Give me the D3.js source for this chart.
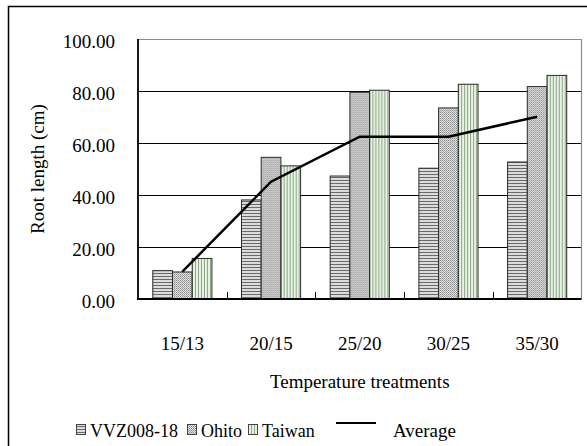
<!DOCTYPE html>
<html>
<head>
<meta charset="utf-8">
<script src="https://cdn.jsdelivr.net/npm/d3@7"></script>
<style>
  body { margin: 0; background: #fff; }
</style>
</head>
<body>
<div id="chart"></div>
<script>
// ----- data -----
var categories = ['15/13', '20/15', '25/20', '30/25', '35/30'];
var seriesNames = ['VVZ008-18', 'Ohito', 'Taiwan'];
var vvzValues = [10.9, 38.1, 47.3, 50.3, 52.7];
var ohitoValues = [10.4, 54.5, 79.5, 73.5, 81.7];
var taiwanValues = [15.6, 51.2, 80.3, 82.6, 86.0];
var averageValues = [10.5, 45.1, 62.4, 62.4, 70.1];
var yTicks = [0, 20, 40, 60, 80, 100];

var attrs = {
  svgWidth: 587,
  svgHeight: 446,
  plotLeft: 138,
  plotRight: 581.5,
  plotTop: 39,
  plotBottom: 299,
  fontSize: 19,
  legendFontSize: 18,
  fontFamily: "'Liberation Serif', 'Times New Roman', serif"
};

var seriesValues = [vvzValues, ohitoValues, taiwanValues];
var patternIds = ['pat-hstripe', 'pat-dots', 'pat-vstripe'];

var svg = d3.select('#chart').append('svg')
  .attr('width', attrs.svgWidth)
  .attr('height', attrs.svgHeight)
  .style('font-family', attrs.fontFamily);

// ##### patterns #####
var defs = svg.append('defs');

var hs = defs.append('pattern').attr('id', 'pat-hstripe')
  .attr('patternUnits', 'userSpaceOnUse').attr('width', 4).attr('height', 3);
hs.append('rect').attr('width', 4).attr('height', 3).attr('fill', '#dcdcdc');
hs.append('rect').attr('width', 4).attr('height', 1).attr('fill', '#6a6a6a');

var dt = defs.append('pattern').attr('id', 'pat-dots')
  .attr('patternUnits', 'userSpaceOnUse').attr('width', 2).attr('height', 2);
dt.append('rect').attr('width', 2).attr('height', 2).attr('fill', '#e4e4e4');
dt.append('rect').attr('width', 1).attr('height', 1).attr('fill', '#858585');
dt.append('rect').attr('x', 1).attr('y', 1).attr('width', 1).attr('height', 1).attr('fill', '#a8a8a8');

var vs = defs.append('pattern').attr('id', 'pat-vstripe')
  .attr('patternUnits', 'userSpaceOnUse').attr('width', 3).attr('height', 4);
vs.append('rect').attr('width', 3).attr('height', 4).attr('fill', '#e9f1e5');
vs.append('rect').attr('width', 1).attr('height', 4).attr('fill', '#8aa986');

// ##### scales #####
var x = d3.scaleBand()
  .domain(categories)
  .range([attrs.plotLeft, attrs.plotRight])
  .padding(0);

var xSub = d3.scaleBand()
  .domain(d3.range(seriesNames.length))
  .range([0, x.bandwidth()])
  .paddingInner(0)
  .paddingOuter(0.75);

var y = d3.scaleLinear()
  .domain([0, 100])
  .range([attrs.plotBottom, attrs.plotTop]);

// outer frame (runs off the right and bottom edge)
svg.append('rect')
  .attr('x', 8.5).attr('y', 6.5)
  .attr('width', 620).attr('height', 500)
  .attr('fill', 'none')
  .attr('stroke', '#000')
  .attr('stroke-width', 1.5);

// ##### gridlines #####
svg.append('g').selectAll('line')
  .data(yTicks.filter(function (d) { return d > 0 && d < 100; }))
  .enter().append('line')
  .attr('x1', attrs.plotLeft).attr('x2', attrs.plotRight)
  .attr('y1', function (d) { return Math.round(y(d)) + 0.5; })
  .attr('y2', function (d) { return Math.round(y(d)) + 0.5; })
  .attr('stroke', '#000')
  .attr('stroke-width', 1);

// plot border top + right (gray)
svg.append('path')
  .attr('d', 'M' + attrs.plotLeft + ',' + (attrs.plotTop + 0.5) + 'H' + attrs.plotRight + 'V' + attrs.plotBottom)
  .attr('fill', 'none')
  .attr('stroke', '#8c8c8c')
  .attr('stroke-width', 1.2);

// ##### bars #####
var groups = svg.append('g').selectAll('g.group')
  .data(categories)
  .enter().append('g')
  .attr('class', 'group')
  .attr('transform', function (d) { return 'translate(' + x(d) + ',0)'; });

groups.selectAll('rect')
  .data(function (d, i) {
    return seriesValues.map(function (vals, s) { return { s: s, v: vals[i] }; });
  })
  .enter().append('rect')
  .attr('x', function (d) { return xSub(d.s); })
  .attr('y', function (d) { return y(d.v); })
  .attr('width', xSub.bandwidth())
  .attr('height', function (d) { return y(0) - y(d.v); })
  .attr('fill', function (d) { return 'url(#' + patternIds[d.s] + ')'; })
  .attr('stroke', '#2a2a2a')
  .attr('stroke-width', 1);

// ##### average line #####
var line = d3.line()
  .x(function (d, i) { return x(categories[i]) + x.bandwidth() / 2; })
  .y(function (d) { return y(d); });

svg.append('path')
  .datum(averageValues)
  .attr('d', line)
  .attr('fill', 'none')
  .attr('stroke', '#000')
  .attr('stroke-width', 2.5);

// ##### axes #####
svg.append('line')
  .attr('x1', attrs.plotLeft).attr('x2', attrs.plotLeft)
  .attr('y1', attrs.plotTop).attr('y2', attrs.plotBottom + 1)
  .attr('stroke', '#000').attr('stroke-width', 1.8);

svg.append('line')
  .attr('x1', attrs.plotLeft - 1).attr('x2', attrs.plotRight)
  .attr('y1', attrs.plotBottom).attr('y2', attrs.plotBottom)
  .attr('stroke', '#000').attr('stroke-width', 2);

// category separator ticks
svg.append('g').selectAll('line')
  .data(categories.slice(1))
  .enter().append('line')
  .attr('x1', function (d) { return Math.round(x(d)) + 0.5; })
  .attr('x2', function (d) { return Math.round(x(d)) + 0.5; })
  .attr('y1', attrs.plotBottom).attr('y2', attrs.plotBottom - 7)
  .attr('stroke', '#000');

// y tick labels
svg.append('g').selectAll('text')
  .data(yTicks)
  .enter().append('text')
  .attr('x', 115)
  .attr('y', function (d) { return y(d) + 9; })
  .attr('text-anchor', 'end')
  .style('font-size', attrs.fontSize + 'px')
  .text(function (d) { return d3.format('.2f')(d); });

// x tick labels
svg.append('g').selectAll('text')
  .data(categories)
  .enter().append('text')
  .attr('x', function (d) { return x(d) + x.bandwidth() / 2; })
  .attr('y', 350)
  .attr('text-anchor', 'middle')
  .style('font-size', attrs.fontSize + 'px')
  .text(function (d) { return d; });

// axis titles
svg.append('text')
  .attr('x', (attrs.plotLeft + attrs.plotRight) / 2)
  .attr('y', 388)
  .attr('text-anchor', 'middle')
  .style('font-size', attrs.fontSize + 'px')
  .text('Temperature treatments');

svg.append('text')
  .attr('transform', 'translate(44,' + ((attrs.plotTop + attrs.plotBottom) / 2) + ') rotate(-90)')
  .attr('text-anchor', 'middle')
  .style('font-size', attrs.fontSize + 'px')
  .text('Root length (cm)');

// ##### legend #####
var legendItems = [
  { name: seriesNames[0], type: 'bar', s: 0, x: 76 },
  { name: seriesNames[1], type: 'bar', s: 1, x: 187 },
  { name: seriesNames[2], type: 'bar', s: 2, x: 248 },
  { name: 'Average', type: 'line', x: 336 }
];

var legend = svg.append('g').attr('class', 'legend');

var li = legend.selectAll('g')
  .data(legendItems)
  .enter().append('g')
  .attr('transform', function (d) { return 'translate(' + d.x + ',0)'; });

li.filter(function (d) { return d.type === 'bar'; })
  .append('rect')
  .attr('x', 0.5).attr('y', 424.5)
  .attr('width', 9).attr('height', 10)
  .attr('fill', function (d) { return 'url(#' + patternIds[d.s] + ')'; })
  .attr('stroke', '#444');

li.filter(function (d) { return d.type === 'line'; })
  .append('line')
  .attr('x1', 0).attr('x2', 40)
  .attr('y1', 423).attr('y2', 423)
  .attr('stroke', '#000').attr('stroke-width', 2);

li.append('text')
  .attr('x', function (d) { return d.type === 'bar' ? 14 : 57; })
  .attr('y', 437)
  .style('font-size', function (d) { return (d.type === 'bar' ? attrs.legendFontSize : attrs.fontSize) + 'px'; })
  .text(function (d) { return d.name; });
</script>
</body>
</html>
